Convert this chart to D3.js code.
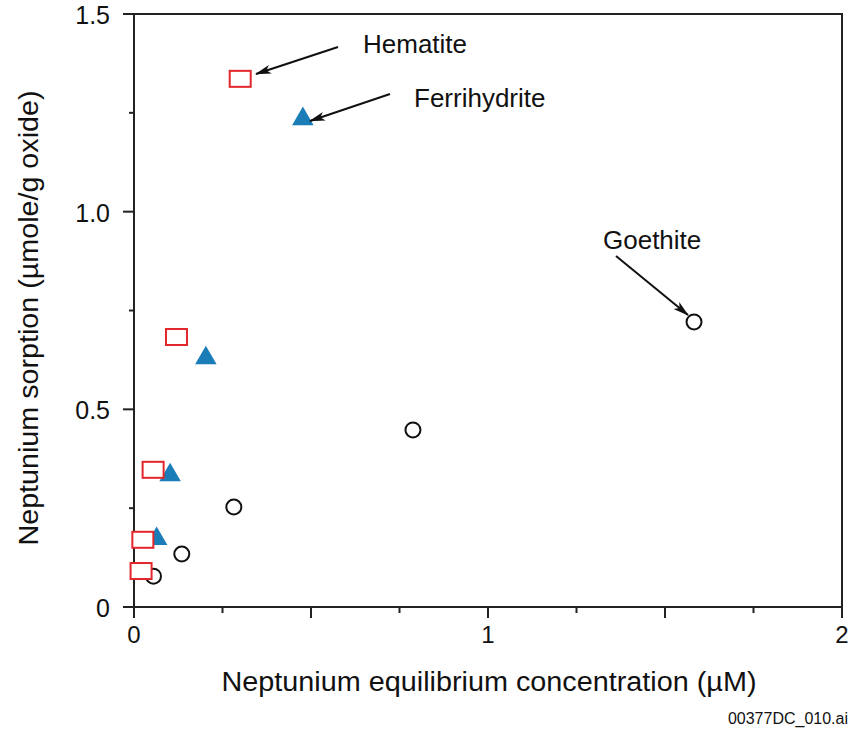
<!DOCTYPE html>
<html><head><meta charset="utf-8">
<script src="https://cdn.jsdelivr.net/npm/d3@7"></script>
<style>body{margin:0;background:#fff}text{font-family:"Liberation Sans",Arial,sans-serif;fill:#111}</style>
</head><body><svg id="c" width="852" height="733"></svg>
<script>
const hematite = [[0.30,1.336],[0.120,0.683],[0.054,0.347],[0.025,0.170],[0.020,0.091]];
const ferrihydrite = [[0.477,1.237],[0.203,0.632],[0.102,0.336],[0.064,0.175]];
const goethite = [[0.055,0.078],[0.135,0.134],[0.282,0.253],[0.788,0.448],[1.582,0.721]];
const xTicks = [0,0.25,0.5,0.75,1,1.25,1.5,1.75,2];
const xLabels = [0,1,2];
const yTicks = [0,0.25,0.5,0.75,1,1.25,1.5];
const yLabels = ["0","0.5","1.0","1.5"];
const annotations = [
  {text:"Hematite", tx:363, ty:53, from:[338,47], to:[256,74]},
  {text:"Ferrihydrite", tx:414, ty:107, from:[390,94], to:[310,121]},
  {text:"Goethite", tx:603, ty:249, from:[616,256], to:[688,315]}
];

const svg = d3.select("#c");
const x = d3.scaleLinear().domain([0,2]).range([134,842]);
const y = d3.scaleLinear().domain([0,1.5]).range([607,14]);

svg.append("defs").append("marker").attr("id","ah").attr("viewBox","0 0 16 10")
  .attr("refX",15).attr("refY",5).attr("markerWidth",16).attr("markerHeight",10)
  .attr("markerUnits","userSpaceOnUse").attr("orient","auto")
  .append("path").attr("d","M0,0.5 L16,5 L0,9.5 L4,5 Z").attr("fill","#111");

// frame
svg.append("rect").attr("x",x(0)).attr("y",y(1.5)).attr("width",x(2)-x(0)).attr("height",y(0)-y(1.5))
  .attr("fill","none").attr("stroke","#222").attr("stroke-width",2);

// x ticks
svg.selectAll(".xt").data(xTicks).enter().append("line")
  .attr("x1",d=>x(d)).attr("x2",d=>x(d)).attr("y1",y(0))
  .attr("y2",d=> (d*2)%1===0 ? y(0)+11 : y(0)+6)
  .attr("stroke","#222").attr("stroke-width",2);
svg.selectAll(".xl").data(xLabels).enter().append("text")
  .attr("x",d=>x(d)).attr("y",y(0)+36).attr("text-anchor","middle").attr("font-size",24).text(d=>d);

// y ticks
svg.selectAll(".yt").data(yTicks).enter().append("line")
  .attr("y1",d=>y(d)).attr("y2",d=>y(d)).attr("x1",x(0))
  .attr("x2",d=> (d*2)%1===0 ? x(0)-11 : x(0)-5)
  .attr("stroke","#222").attr("stroke-width",2);
svg.selectAll(".yl").data(yLabels).enter().append("text")
  .attr("x",110).attr("y",d=>y(+d)+10).attr("text-anchor","end").attr("font-size",25).text(d=>d);

// axis titles
svg.append("text").attr("x",489).attr("y",691).attr("text-anchor","middle").attr("font-size",27)
  .attr("textLength",535).attr("lengthAdjust","spacingAndGlyphs")
  .text("Neptunium equilibrium concentration (\u00b5M)");
svg.append("text").attr("transform","translate(38,318) rotate(-90)").attr("text-anchor","middle").attr("font-size",27)
  .attr("textLength",455).attr("lengthAdjust","spacingAndGlyphs")
  .text("Neptunium sorption (\u00b5mole/g oxide)");

// goethite circles
svg.selectAll(".g").data(goethite).enter().append("circle")
  .attr("cx",d=>x(d[0])).attr("cy",d=>y(d[1])).attr("r",7.5)
  .attr("fill","none").attr("stroke","#111").attr("stroke-width",2);
// ferrihydrite triangles
const tri = d3.symbol().type(d3.symbolTriangle).size(200);
svg.selectAll(".f").data(ferrihydrite).enter().append("path")
  .attr("d",tri).attr("transform",d=>`translate(${x(d[0])},${y(d[1])+1})`)
  .attr("fill","#1a7db8");
// hematite squares
svg.selectAll(".h").data(hematite).enter().append("rect")
  .attr("x",d=>x(d[0])-10.5).attr("y",d=>y(d[1])-8).attr("width",21).attr("height",16)
  .attr("fill","#fff").attr("stroke","#e3262b").attr("stroke-width",2);

// annotations
annotations.forEach(a=>{
  svg.append("text").attr("x",a.tx).attr("y",a.ty).attr("font-size",26).text(a.text);
  svg.append("line").attr("x1",a.from[0]).attr("y1",a.from[1]).attr("x2",a.to[0]).attr("y2",a.to[1])
    .attr("stroke","#111").attr("stroke-width",2).attr("marker-end","url(#ah)");
});

svg.append("text").attr("x",848).attr("y",724).attr("text-anchor","end").attr("font-size",16).text("00377DC_010.ai");
</script></body></html>
